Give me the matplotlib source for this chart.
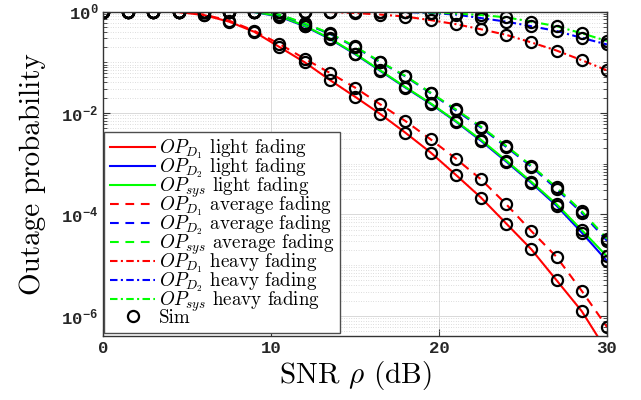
import numpy as np
import matplotlib
matplotlib.use('Agg')
import matplotlib.pyplot as plt
from matplotlib.ticker import FixedLocator, LogLocator, NullFormatter

plt.rcParams['font.family'] = ['cmr10', 'DejaVu Serif']
plt.rcParams['mathtext.fontset'] = 'cm'
plt.rcParams['axes.formatter.use_mathtext'] = True

# SNR grid (dB)
snr_db = [0, 1.5, 3, 4.5, 6, 7.5, 9, 10.5, 12, 13.5, 15, 16.5, 18, 19.5, 21, 22.5, 24, 25.5, 27, 28.5, 30]

# outage probabilities, stored as log10 values
d1_light = [0, 0, -0.002, -0.012, -0.07, -0.20, -0.40, -0.70, -1.00, -1.35, -1.68,
            -2.02, -2.39, -2.78, -3.22, -3.67, -4.18, -4.69, -5.30, -5.91, -6.70]
d2_light = [0, 0, 0, 0, 0, 0, -0.012, -0.10, -0.29, -0.54, -0.84,
            -1.17, -1.50, -1.82, -2.17, -2.55, -2.96, -3.38, -3.83, -4.36, -4.92]
sys_light = [0, 0, 0, 0, 0, 0, -0.01, -0.09, -0.28, -0.53, -0.83,
             -1.16, -1.49, -1.81, -2.16, -2.53, -2.94, -3.36, -3.80, -4.31, -4.83]
d1_avg = [0, 0, -0.002, -0.01, -0.06, -0.18, -0.38, -0.64, -0.93, -1.21, -1.50,
          -1.83, -2.16, -2.52, -2.90, -3.31, -3.80, -4.33, -4.84, -5.51, -6.22]
d2_avg = [0, 0, 0, 0, 0, 0, -0.006, -0.065, -0.24, -0.44, -0.70,
          -1.00, -1.28, -1.61, -1.95, -2.29, -2.67, -3.06, -3.50, -3.97, -4.52]
sys_avg = [0, 0, 0, 0, 0, 0, -0.005, -0.06, -0.23, -0.43, -0.69,
           -0.99, -1.27, -1.60, -1.93, -2.27, -2.65, -3.04, -3.47, -3.94, -4.48]
d1_heavy = [0, 0, 0, 0, 0, 0, 0, 0, 0, -0.01, -0.03,
            -0.06, -0.10, -0.17, -0.25, -0.35, -0.46, -0.61, -0.77, -0.96, -1.16]
d2_heavy = [0, 0, 0, 0, 0, 0, 0, 0, 0, 0, 0,
            -0.003, -0.01, -0.03, -0.06, -0.13, -0.20, -0.29, -0.385, -0.52, -0.65]
sys_heavy = [0, 0, 0, 0, 0, 0, 0, 0, 0, 0, 0,
             -0.002, -0.005, -0.02, -0.04, -0.07, -0.115, -0.20, -0.29, -0.43, -0.58]

series = [
    (d1_light, 'r', '-', r'$OP_{D_1}$ light fading'),
    (d2_light, 'b', '-', r'$OP_{D_2}$ light fading'),
    (sys_light, 'lime', '-', r'$OP_{sys}$ light fading'),
    (d1_avg, 'r', '--', r'$OP_{D_1}$ average fading'),
    (d2_avg, 'b', '--', r'$OP_{D_2}$ average fading'),
    (sys_avg, 'lime', '--', r'$OP_{sys}$ average fading'),
    (d1_heavy, 'r', '-.', r'$OP_{D_1}$ heavy fading'),
    (d2_heavy, 'b', '-.', r'$OP_{D_2}$ heavy fading'),
    (sys_heavy, 'lime', '-.', r'$OP_{sys}$ heavy fading'),
]
dash = {'-': None, '--': (4.2, 3.2), '-.': (3.6, 1.6, 1.0, 1.6)}

fig = plt.figure(figsize=(6.41, 4.0), dpi=100)
ax = fig.add_axes([103/641, 64/400, 504/641, 324.5/400])

snr = np.array(snr_db)
handles = []
for vals, c, ls, lab in series:
    p = 10 ** np.array(vals)
    ln, = ax.plot(snr, p, color=c, lw=1.5, label=lab)
    if dash[ls] is not None:
        ln.set_dashes(dash[ls])
    handles.append(ln)
for vals, c, ls, lab in series:
    p = 10 ** np.array(vals)
    sim, = ax.plot(snr, p, 'o', mfc='none', mec='k', ms=8, mew=1.6, label='Sim')
handles.append(sim)

ax.set_yscale('log')
ax.set_xlim(0, 30)
ax.set_ylim(4e-7, 1)
ax.set_xticks([0, 10, 20, 30])
ax.yaxis.set_major_locator(FixedLocator([1e-6, 1e-4, 1e-2, 1]))
ax.yaxis.set_minor_locator(LogLocator(base=10, subs=np.arange(1, 10), numticks=30))
ax.yaxis.set_minor_formatter(NullFormatter())
mono = dict(family='Liberation Mono', weight='bold', size=12.5, color='0.15')
ax.set_xticklabels(['0', '10', '20', '30'], **mono)
ax.set_yticklabels([r'$\mathregular{10^{-6}}$', r'$\mathregular{10^{-4}}$',
                    r'$\mathregular{10^{-2}}$', r'$\mathregular{10^{0}}$'], **mono)
ax.tick_params(which='both', direction='in', top=True, right=True, color='0.2')
ax.tick_params(which='major', length=5, width=0.8)
ax.tick_params(which='minor', length=3, width=0.6)
for s in ax.spines.values():
    s.set_color('0.2')
    s.set_linewidth(1.0)

ax.grid(True, which='major', color='0.85', lw=0.7, ls='-')
ax.grid(True, which='minor', axis='y', color='0.75', lw=0.5, ls=(0, (1, 2.5)))
ax.set_axisbelow(True)

ax.set_xlabel(r'SNR $\rho$ (dB)', fontsize=21, labelpad=2)
ax.set_ylabel('Outage probability', fontsize=21, labelpad=11)

leg = ax.legend(handles=handles, loc='lower left', bbox_to_anchor=(0.002, 0.01),
                borderaxespad=0, fancybox=False, framealpha=1, edgecolor='0.3',
                prop={'family': 'cmr10', 'size': 13.7}, handlelength=2.4,
                handletextpad=0.2, labelspacing=-0.25, borderpad=0.3)
leg.get_frame().set_linewidth(1.0)

fig.savefig('out.png', dpi=100)
